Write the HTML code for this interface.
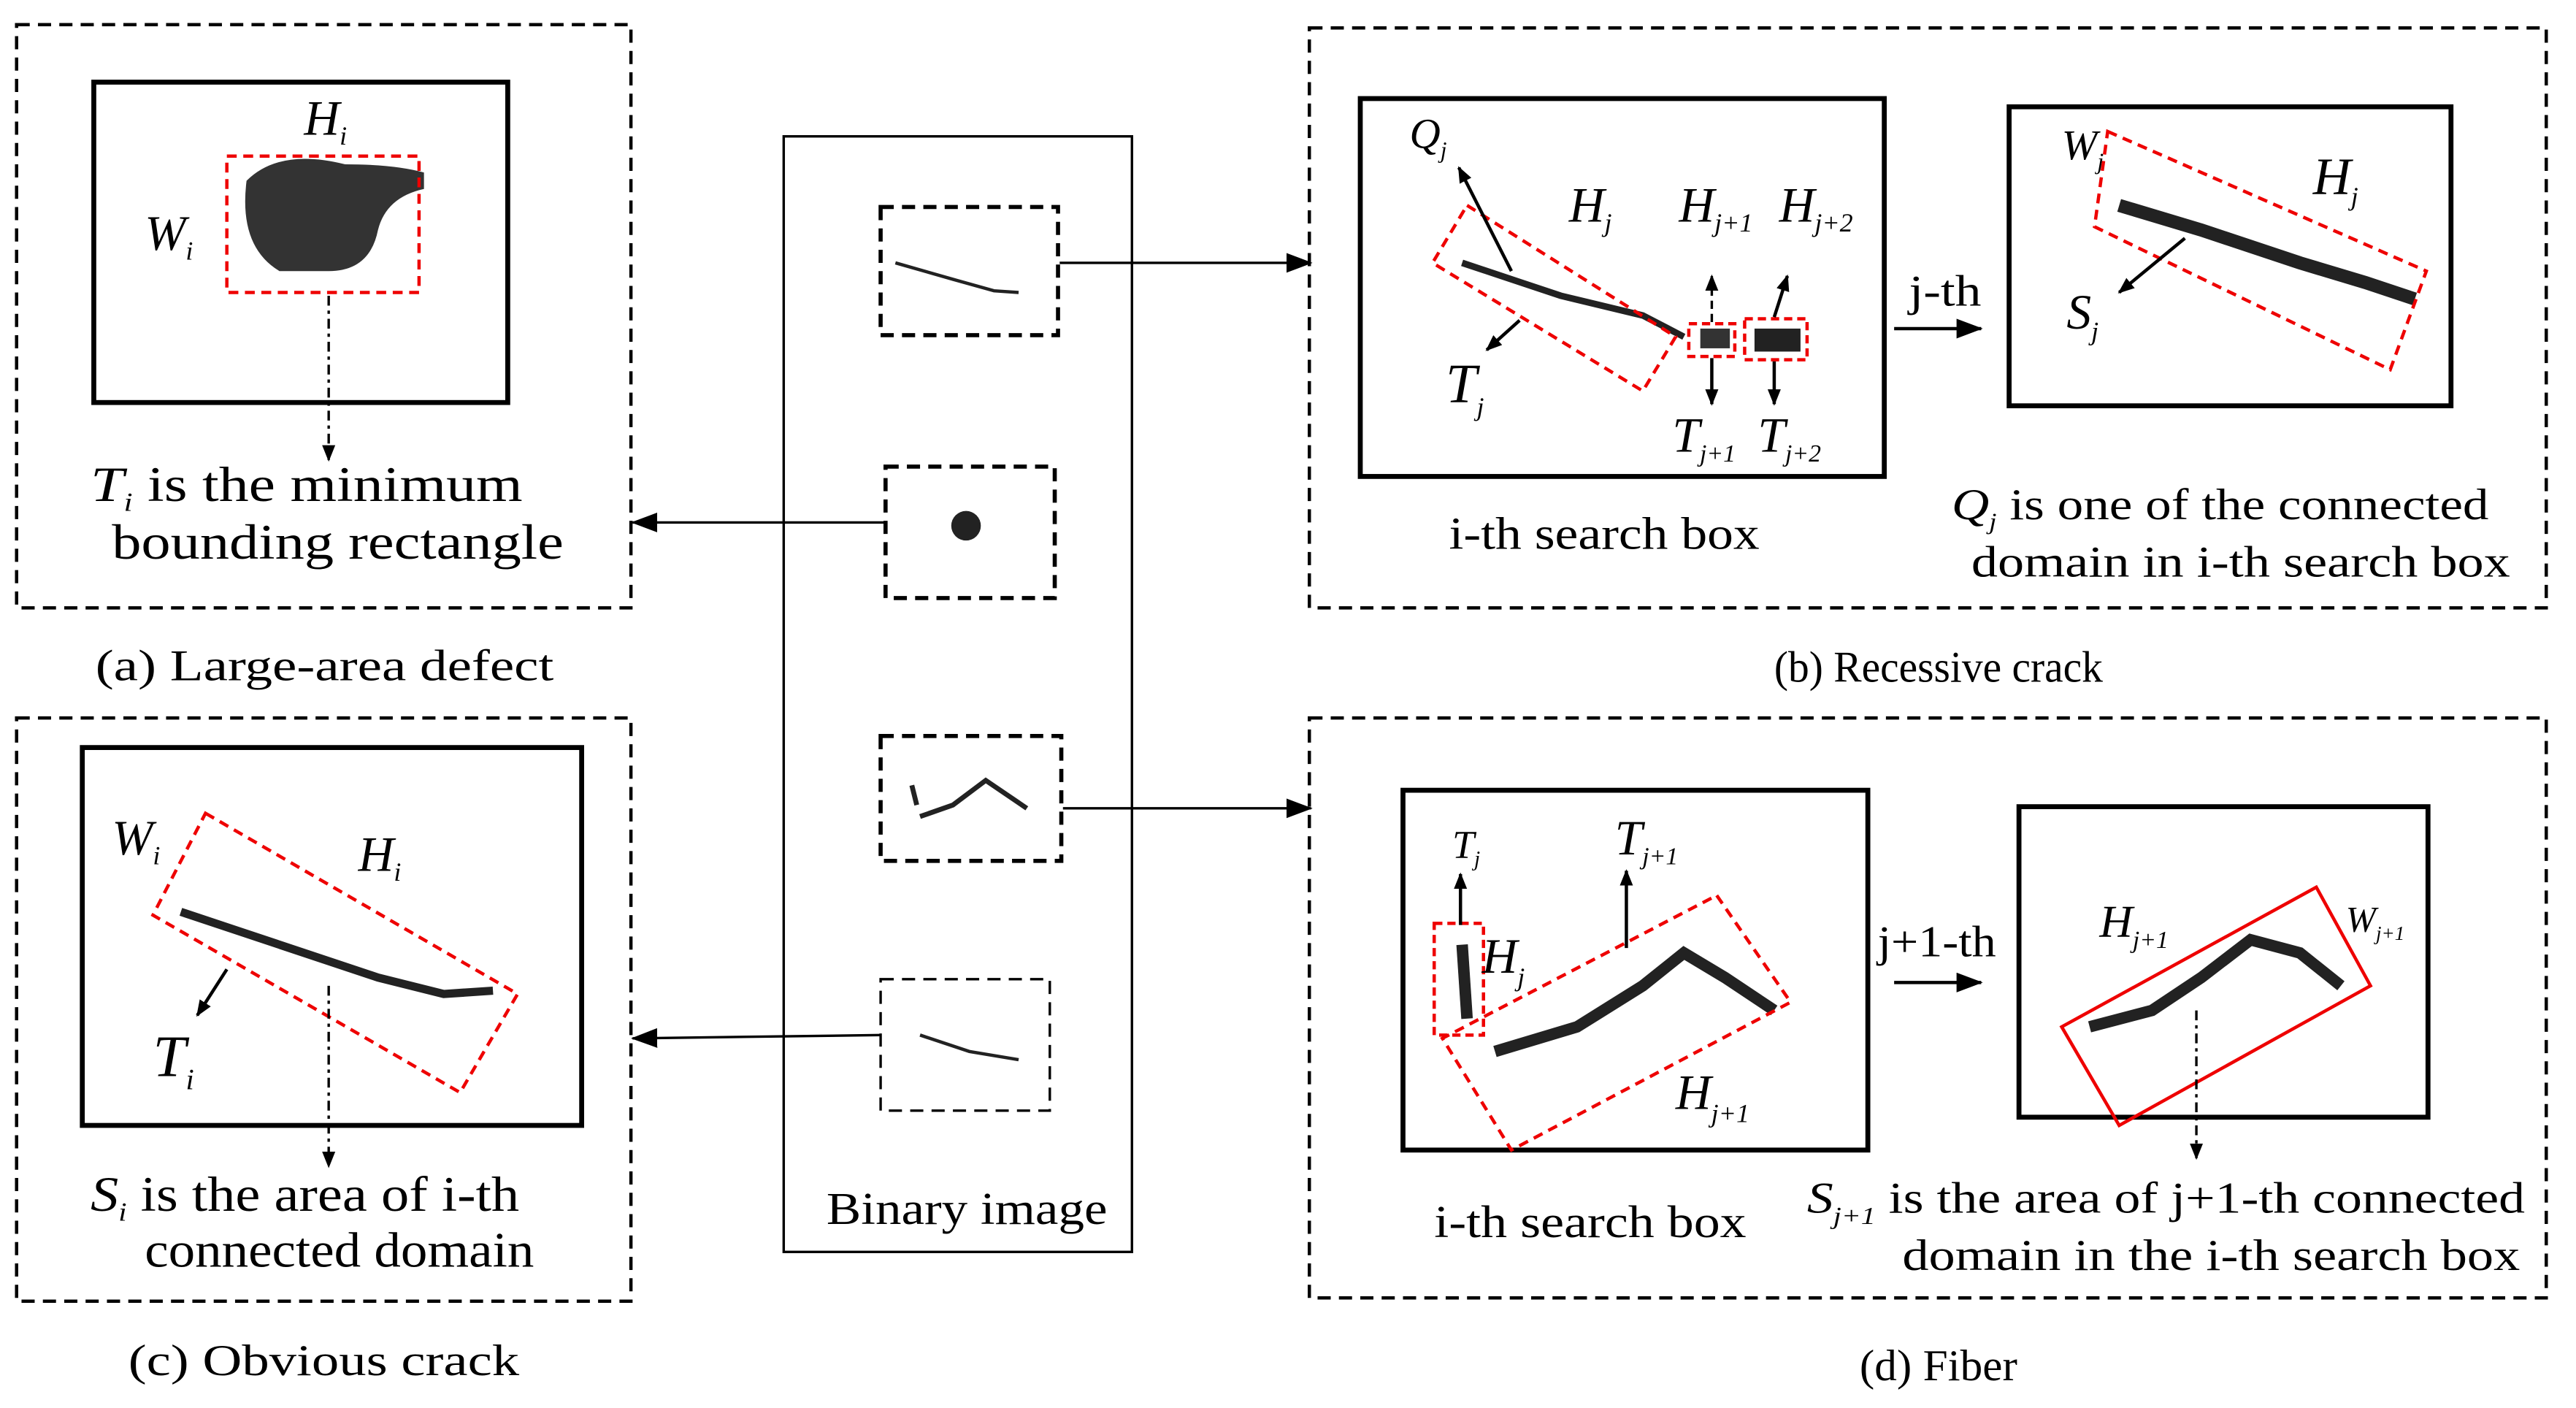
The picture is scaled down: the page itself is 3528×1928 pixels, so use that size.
<!DOCTYPE html>
<html><head><meta charset="utf-8"><style>
html,body{margin:0;padding:0;background:#fff;}
svg{display:block;}
text{font-family:"Liberation Serif",serif;fill:#000;}
.it{font-style:italic;}
</style></head><body>
<svg width="3528" height="1928" viewBox="0 0 1568 857" xmlns="http://www.w3.org/2000/svg">
<defs>
<marker id="ar" markerWidth="10" markerHeight="10" refX="9" refY="5" orient="auto" markerUnits="userSpaceOnUse"><path d="M0,1 L10,5 L0,9 Z" fill="#000"/></marker>
<marker id="ar2" markerWidth="16" markerHeight="12" refX="15" refY="6" orient="auto" markerUnits="userSpaceOnUse"><path d="M0,0 L16,6 L0,12 Z" fill="#000"/></marker>
</defs>
<g fill="none" stroke="#000" stroke-width="2" stroke-dasharray="8,5">
<rect x="10" y="15" width="374" height="355"/>
<rect x="10" y="437" width="374" height="355"/>
<rect x="797" y="17" width="753" height="353"/>
<rect x="797" y="437" width="753" height="353"/>
<rect x="536" y="126" width="108" height="78" stroke-width="2.5"/>
<rect x="539" y="284" width="103" height="80" stroke-width="2.5"/>
<rect x="536" y="448" width="110" height="76" stroke-width="2.5"/>
<rect x="536" y="596" width="103" height="80" stroke-width="1.5"/>
</g>
<rect x="477" y="83" width="212" height="679" fill="none" stroke="#000" stroke-width="1.5"/>
<g fill="none" stroke="#000" stroke-width="3">
<rect x="57" y="50" width="252" height="195"/>
<rect x="50" y="455" width="304" height="230"/>
<rect x="828" y="60" width="319" height="230"/>
<rect x="1223" y="65" width="269" height="182"/>
<rect x="854" y="481" width="283" height="219"/>
<rect x="1229" y="491" width="249" height="189"/>
</g>
<path d="M545,160 L580,170 L605,177 L620,178" stroke="#222" stroke-width="2" fill="none"/>
<circle cx="588" cy="320" r="9" fill="#222"/>
<path d="M555,478 L558,490 M560,497 L580,490 L600,475 L625,492" stroke="#222" stroke-width="3" fill="none"/>
<path d="M560,630 L590,640 L620,645" stroke="#222" stroke-width="2" fill="none"/>
<!-- panel a -->
<path d="M150,110 Q170,90 210,100 Q240,100 258,105 L258,115 Q235,120 230,140 Q225,165 200,165 L170,165 Q145,150 150,110Z" fill="#333"/>
<rect x="138" y="95" width="117" height="83" fill="none" stroke="#e00" stroke-width="2" stroke-dasharray="6,4"/>
<text x="185" y="82" font-size="30" class="it">H<tspan font-size="16" dy="6">i</tspan></text>
<text x="88" y="152" font-size="30" class="it">W<tspan font-size="16" dy="6">i</tspan></text>
<line x1="200" y1="180" x2="200" y2="280" stroke="#000" stroke-width="1.5" stroke-dasharray="6,3,2,3" marker-end="url(#ar)"/>
<text x="55" y="305" font-size="30" textLength="263" lengthAdjust="spacingAndGlyphs"><tspan class="it">T</tspan><tspan class="it" font-size="16" dy="6">i</tspan><tspan dy="-6"> is the minimum</tspan></text>
<text x="68" y="340" font-size="30" textLength="275" lengthAdjust="spacingAndGlyphs">bounding rectangle</text>
<text x="58" y="414" font-size="27" textLength="279" lengthAdjust="spacingAndGlyphs">(a) Large-area defect</text>
<!-- panel c -->
<path d="M110,555 L170,575 L230,595 L270,605 L300,603" stroke="#222" stroke-width="5" fill="none"/>
<polygon points="125,495 315,605 280,665 93,557" fill="none" stroke="#e00" stroke-width="2" stroke-dasharray="6,4"/>
<text x="68" y="520" font-size="30" class="it">W<tspan font-size="16" dy="6">i</tspan></text>
<text x="218" y="530" font-size="30" class="it">H<tspan font-size="16" dy="6">i</tspan></text>
<line x1="138" y1="590" x2="120" y2="618" stroke="#000" stroke-width="2" marker-end="url(#ar)"/>
<text x="93" y="655" font-size="36" class="it">T<tspan font-size="18" dy="8">i</tspan></text>
<line x1="200" y1="600" x2="200" y2="710" stroke="#000" stroke-width="1.5" stroke-dasharray="6,3,2,3" marker-end="url(#ar)"/>
<text x="55" y="737" font-size="30" textLength="261" lengthAdjust="spacingAndGlyphs"><tspan class="it">S</tspan><tspan class="it" font-size="16" dy="6">i</tspan><tspan dy="-6">  is the area of i-th</tspan></text>
<text x="88" y="771" font-size="30" textLength="237" lengthAdjust="spacingAndGlyphs">connected domain</text>
<text x="78" y="837" font-size="27" textLength="238" lengthAdjust="spacingAndGlyphs">(c) Obvious crack</text>
<text x="503" y="745" font-size="28" textLength="171" lengthAdjust="spacingAndGlyphs">Binary image</text>
<line x1="645" y1="160" x2="798" y2="160" stroke="#000" stroke-width="1.5" marker-end="url(#ar2)"/>
<line x1="539" y1="318" x2="385" y2="318" stroke="#000" stroke-width="1.5" marker-end="url(#ar2)"/>
<line x1="647" y1="492" x2="798" y2="492" stroke="#000" stroke-width="1.5" marker-end="url(#ar2)"/>
<line x1="536" y1="630" x2="385" y2="632" stroke="#000" stroke-width="1.5" marker-end="url(#ar2)"/>
<!-- panel b -->
<path d="M890,160 L950,180 L1000,192 L1025,205" stroke="#222" stroke-width="4" fill="none"/>
<rect x="1035" y="200" width="18" height="12" fill="#333"/><rect x="1068" y="200" width="28" height="14" fill="#222"/>
<polygon points="893,125 1020,205 1000,238 872,160" fill="none" stroke="#e00" stroke-width="2" stroke-dasharray="6,4"/>
<rect x="1028" y="197" width="28" height="20" fill="none" stroke="#e00" stroke-width="2" stroke-dasharray="5,3"/>
<rect x="1062" y="194" width="38" height="25" fill="none" stroke="#e00" stroke-width="2" stroke-dasharray="5,3"/>
<text x="858" y="90" font-size="26" class="it">Q<tspan font-size="14" dy="6">j</tspan></text>
<line x1="920" y1="165" x2="888" y2="102" stroke="#000" stroke-width="2" marker-end="url(#ar)"/>
<text x="955" y="135" font-size="30" class="it">H<tspan font-size="16" dy="6">j</tspan></text>
<text x="1022" y="135" font-size="30" class="it">H<tspan font-size="16" dy="6">j+1</tspan></text>
<text x="1083" y="135" font-size="30" class="it">H<tspan font-size="16" dy="6">j+2</tspan></text>
<line x1="925" y1="195" x2="905" y2="213" stroke="#000" stroke-width="2" marker-end="url(#ar)"/>
<text x="880" y="245" font-size="34" class="it">T<tspan font-size="16" dy="8">j</tspan></text>
<line x1="1042" y1="196" x2="1042" y2="168" stroke="#000" stroke-width="1.5" stroke-dasharray="5,3" marker-end="url(#ar)"/>
<line x1="1080" y1="193" x2="1088" y2="168" stroke="#000" stroke-width="2" marker-end="url(#ar)"/>
<line x1="1042" y1="218" x2="1042" y2="246" stroke="#000" stroke-width="2" marker-end="url(#ar)"/>
<line x1="1080" y1="220" x2="1080" y2="246" stroke="#000" stroke-width="2" marker-end="url(#ar)"/>
<text x="1018" y="275" font-size="30" class="it">T<tspan font-size="15" dy="6">j+1</tspan></text>
<text x="1070" y="275" font-size="30" class="it">T<tspan font-size="15" dy="6">j+2</tspan></text>
<text x="882" y="334" font-size="28" textLength="189" lengthAdjust="spacingAndGlyphs">i-th search box</text>
<text x="1162" y="186" font-size="27" textLength="44" lengthAdjust="spacingAndGlyphs">j-th</text>
<line x1="1153" y1="200" x2="1206" y2="200" stroke="#000" stroke-width="2" marker-end="url(#ar2)"/>
<path d="M1290,125 L1340,140 L1400,160 L1440,172 L1470,182" stroke="#222" stroke-width="8" fill="none"/>
<polygon points="1283,80 1477,165 1455,225 1275,138" fill="none" stroke="#e00" stroke-width="2" stroke-dasharray="6,4"/>
<text x="1255" y="97" font-size="26" class="it">W<tspan font-size="14" dy="6">j</tspan></text>
<text x="1408" y="118" font-size="32" class="it">H<tspan font-size="16" dy="7">j</tspan></text>
<line x1="1330" y1="145" x2="1290" y2="178" stroke="#000" stroke-width="2" marker-end="url(#ar)"/>
<text x="1258" y="200" font-size="30" class="it">S<tspan font-size="16" dy="7">j</tspan></text>
<text x="1188" y="316" font-size="27" textLength="327" lengthAdjust="spacingAndGlyphs"><tspan class="it">Q</tspan><tspan class="it" font-size="14" dy="6">j</tspan><tspan dy="-6"> is one of the connected</tspan></text>
<text x="1200" y="351" font-size="27" textLength="328" lengthAdjust="spacingAndGlyphs">domain in i-th search box</text>
<text x="1080" y="415" font-size="27" textLength="200" lengthAdjust="spacingAndGlyphs">(b) Recessive crack</text>
<!-- panel d -->
<path d="M890,575 L893,620" stroke="#222" stroke-width="7" fill="none"/>
<path d="M910,640 L960,625 L1000,600 L1025,580 L1050,595 L1080,615" stroke="#222" stroke-width="7" fill="none"/>
<rect x="873" y="562" width="30" height="68" fill="none" stroke="#e00" stroke-width="2" stroke-dasharray="5,3"/>
<polygon points="1045,545 1090,610 920,700 878,632" fill="none" stroke="#e00" stroke-width="2" stroke-dasharray="6,4"/>
<text x="884" y="522" font-size="24" class="it">T<tspan font-size="13" dy="5">j</tspan></text>
<line x1="889" y1="563" x2="889" y2="532" stroke="#000" stroke-width="2" marker-end="url(#ar)"/>
<text x="983" y="520" font-size="30" class="it">T<tspan font-size="15" dy="6">j+1</tspan></text>
<line x1="990" y1="577" x2="990" y2="530" stroke="#000" stroke-width="2" marker-end="url(#ar)"/>
<text x="902" y="592" font-size="30" class="it">H<tspan font-size="16" dy="8">j</tspan></text>
<text x="1020" y="675" font-size="30" class="it">H<tspan font-size="16" dy="8">j+1</tspan></text>
<text x="873" y="753" font-size="28" textLength="190" lengthAdjust="spacingAndGlyphs">i-th search box</text>
<text x="1143" y="582" font-size="27" textLength="72" lengthAdjust="spacingAndGlyphs">j+1-th</text>
<line x1="1153" y1="598" x2="1206" y2="598" stroke="#000" stroke-width="2" marker-end="url(#ar2)"/>
<path d="M1272,625 L1310,615 L1340,595 L1370,572 L1400,580 L1425,600" stroke="#222" stroke-width="7" fill="none"/>
<polygon points="1255,625 1410,540 1443,600 1290,685" fill="none" stroke="#e00" stroke-width="2"/>
<text x="1278" y="570" font-size="28" class="it">H<tspan font-size="15" dy="7">j+1</tspan></text>
<text x="1428" y="567" font-size="22" class="it">W<tspan font-size="12" dy="5">j+1</tspan></text>
<line x1="1337" y1="615" x2="1337" y2="705" stroke="#000" stroke-width="1.5" stroke-dasharray="6,3,2,3" marker-end="url(#ar)"/>
<text x="1100" y="738" font-size="27" textLength="437" lengthAdjust="spacingAndGlyphs"><tspan class="it">S</tspan><tspan class="it" font-size="15" dy="7">j+1</tspan><tspan dy="-7"> is the area of j+1-th connected</tspan></text>
<text x="1158" y="773" font-size="27" textLength="376" lengthAdjust="spacingAndGlyphs">domain in the i-th search box</text>
<text x="1132" y="840" font-size="27" textLength="96" lengthAdjust="spacingAndGlyphs">(d) Fiber</text>
</svg>
</body></html>
